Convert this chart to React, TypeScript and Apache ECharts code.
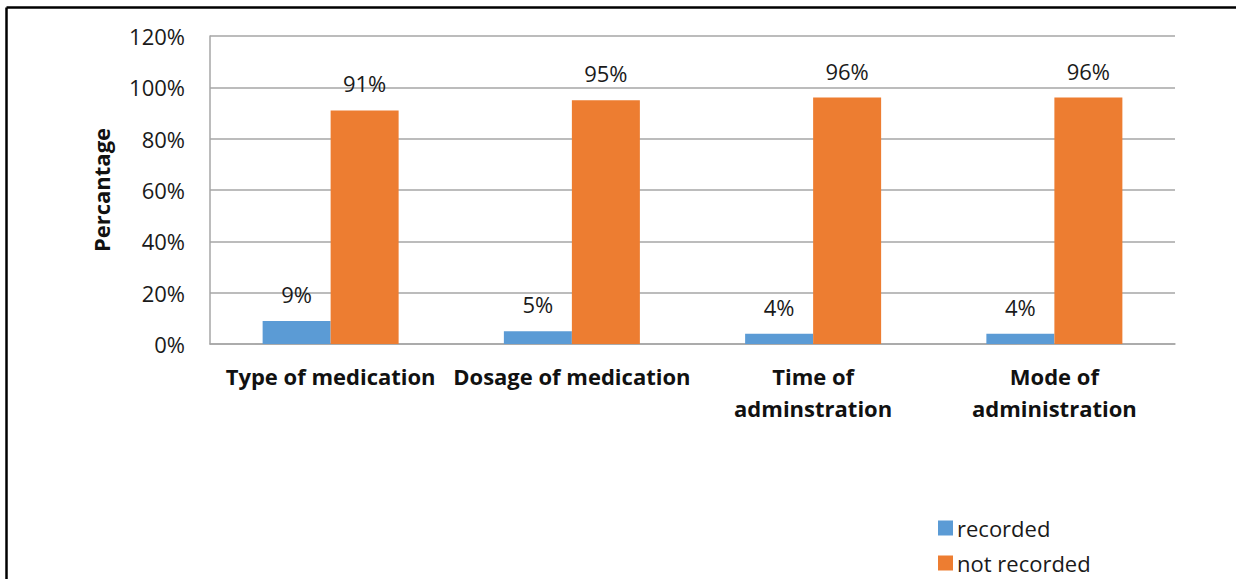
import React, { useEffect, useRef } from "react";
import * as echarts from "echarts";

const categories = [
  "Type of medication",
  "Dosage of medication",
  "Time of\nadminstration",
  "Mode of\nadministration",
];
const seriesNames = ["recorded", "not recorded"];
const recorded = [9, 5, 4, 4];
const notRecorded = [91, 95, 96, 96];
const yTicks = { min: 0, max: 120, interval: 20 };

const FONT = "Open Sans";

export default function App() {
  const ref = useRef<HTMLDivElement>(null);
  useEffect(() => {
    if (!ref.current) return;
    const chart = echarts.init(ref.current, null, { renderer: "svg" });
    const labelStyle = {
      show: true,
      position: "top" as const,
      distance: 16,
      formatter: "{c}%",
      fontFamily: FONT,
      fontSize: 22,
      color: "#1a1a1a",
    };
    const legendBase = {
      orient: "horizontal" as const,
      left: 933,
      itemWidth: 15,
      itemHeight: 15,
      icon: "rect",
      textStyle: { fontFamily: FONT, fontSize: 22, color: "#1a1a1a", padding: [0, 0, 0, -1] },
    };
    chart.setOption({
      animation: false,
      backgroundColor: "#ffffff",
      textStyle: { fontFamily: FONT },
      grid: { left: 210, right: 61, top: 36, bottom: 235, containLabel: false },
      legend: [
        { ...legendBase, top: 512, data: [seriesNames[0]] },
        { ...legendBase, top: 547, data: [seriesNames[1]] },
      ],
      xAxis: {
        type: "category",
        data: categories,
        axisLine: { show: true, lineStyle: { color: "#a6a6a6", width: 1.5 } },
        axisTick: { show: false },
        axisLabel: {
          interval: 0,
          margin: 16,
          fontFamily: FONT,
          fontSize: 22,
          fontWeight: "bold",
          color: "#111",
          lineHeight: 32,
        },
      },
      yAxis: {
        type: "value",
        min: yTicks.min,
        max: yTicks.max,
        interval: yTicks.interval,
        name: "Percantage",
        nameLocation: "middle",
        nameGap: 98,
        nameTextStyle: { fontFamily: FONT, fontSize: 22, fontWeight: "bold", color: "#111" },
        axisLine: { show: true, lineStyle: { color: "#a6a6a6", width: 1.5 } },
        axisTick: { show: false },
        axisLabel: {
          formatter: "{value}%",
          margin: 25,
          fontFamily: FONT,
          fontSize: 22,
          color: "#1a1a1a",
        },
        splitLine: { lineStyle: { color: "#a6a6a6", width: 1.5 } },
      },
      series: [
        {
          name: seriesNames[0],
          type: "bar",
          data: recorded,
          barWidth: 68,
          barGap: "0%",
          itemStyle: { color: "#5B9BD5" },
          label: labelStyle,
        },
        {
          name: seriesNames[1],
          type: "bar",
          data: notRecorded,
          barWidth: 68,
          barGap: "0%",
          itemStyle: { color: "#ED7D31" },
          label: labelStyle,
        },
      ],
      graphic: [
        { type: "line", shape: { x1: 6.5, y1: 7.5, x2: 1236, y2: 7.5 }, style: { stroke: "#000", lineWidth: 2.5 } },
        { type: "line", shape: { x1: 6.5, y1: 7.5, x2: 6.5, y2: 579 }, style: { stroke: "#000", lineWidth: 2.5 } },
      ],
    });
    return () => chart.dispose();
  }, []);
  return (
    <div
      ref={ref}
      style={{ position: "fixed", left: 0, top: 0, width: 1236, height: 579 }}
    />
  );
}
